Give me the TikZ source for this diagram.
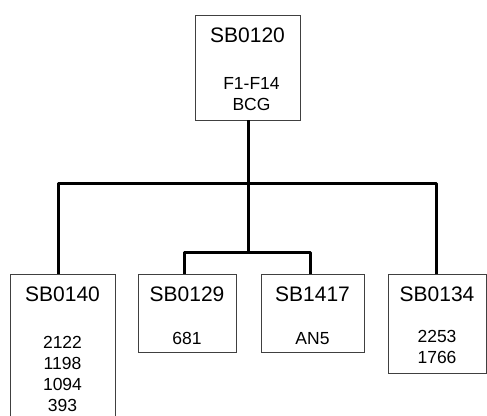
\documentclass[tikz,border=0pt]{standalone}
\usepackage{fontspec}
\setmainfont{Liberation Sans}

\begin{document}
\begin{tikzpicture}[x=1pt, y=-1pt,
    box/.style={draw=black!75, line width=0.9pt, inner sep=0pt},
    title/.style={anchor=north, inner sep=0pt, font=\fontsize{21}{25}\selectfont},
    entries/.style={anchor=north, inner sep=0pt, align=center,
                    font=\fontsize{17.5}{20.7}\selectfont},
    link/.style={line width=3pt, line join=round}]
  \useasboundingbox (0,0) rectangle (487,415);
  % boxes
  \node[box, minimum width=105pt, minimum height=105pt] (root)  at (247.5,67.5) {};
  \node[box, minimum width=105pt, minimum height=151pt] (b140)  at (62.5,349.5) {};
  \node[box, minimum width=98pt,  minimum height=78pt]  (b129)  at (187,313) {};
  \node[box, minimum width=103pt, minimum height=78pt]  (b1417) at (312.5,313) {};
  \node[box, minimum width=98pt,  minimum height=99pt]  (b134)  at (437,323.5) {};
  % titles
  \node[title] (t0120) at ([yshift=-13pt]root.north)  {SB0120};
  \node[title] (t0140) at ([yshift=-13pt]b140.north)  {SB0140};
  \node[title] (t0129) at ([yshift=-13pt]b129.north)  {SB0129};
  \node[title] (t1417) at ([yshift=-13pt]b1417.north) {SB1417};
  \node[title] (t0134) at ([yshift=-13pt]b134.north)  {SB0134};
  % entries
  \node[entries] (e0120) at ([xshift=4pt,yshift=-63pt]root.north) {F1-F14\\BCG};
  \node[entries] (e0140) at ([yshift=-63pt]b140.north)  {2122\\1198\\1094\\393};
  \node[entries] (e0129) at ([yshift=-59pt]b129.north)  {681};
  \node[entries] (e1417) at ([yshift=-59pt]b1417.north) {AN5};
  \node[entries] (e0134) at ([yshift=-57pt]b134.north)  {2253\\1766};
  % connectors
  \coordinate (split) at (248,183);
  \coordinate (join)  at (248,252);
  \draw[link] ([xshift=0.5pt]root.south) -- (join);
  \draw[link] ([xshift=-4.5pt]b140.north) |- (split) -| ([xshift=-1pt]b134.north);
  \draw[link] ([xshift=-3pt]b129.north) |- (join) -| ([xshift=-2.5pt]b1417.north);
\end{tikzpicture}
\end{document}
